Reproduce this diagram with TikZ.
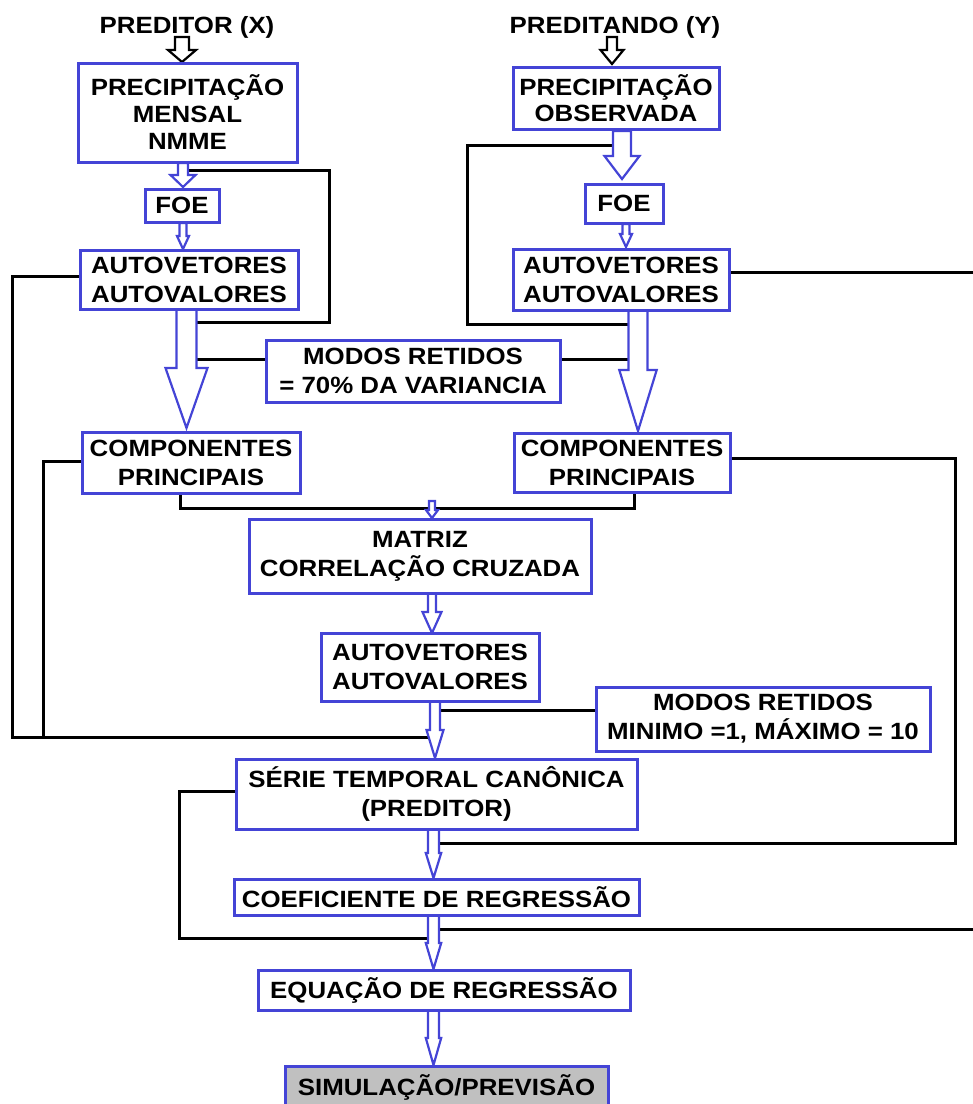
\documentclass[tikz,border=0pt]{standalone}
\usepackage{fontspec}
\setmainfont{Liberation Sans}[FakeStretch=1.1]
\definecolor{bblue}{RGB}{68,68,214}
\definecolor{simgray}{RGB}{192,192,192}
\newcommand\harrow[7]{%
  \draw[draw=#1, line width=2.2, fill=white, line join=miter]
    ({#2-#6},#3) -- ({#2-#6},#4) -- ({#2-#7},#4) -- (#2,#5) -- ({#2+#7},#4)
    -- ({#2+#6},#4) -- ({#2+#6},#3) -- cycle;}
\begin{document}
\begin{tikzpicture}[x=1pt,y=-1pt,
  box/.style={draw=bblue, line width=3, fill=white, inner sep=0pt, align=center,
    font=\fontsize{23.5}{29}\selectfont\bfseries},
  lbl/.style={inner sep=0pt, font=\fontsize{23.5}{29}\selectfont\bfseries},
  conn/.style={draw=black, line width=3, line join=miter}]
\useasboundingbox (0,0) rectangle (973,1104);

% ---------- nodes ----------
\node[lbl] (tx) at (187,27) {PREDITOR (X)};
\node[lbl] (ty) at (615,27) {PREDITANDO (Y)};

% ---------- connectors ----------
\coordinate (a1) at (188,170);
\coordinate (a2) at (197,322);
\draw[conn] (a1) -| (329,322) -- (a2);
\coordinate (b1) at (80,276);
\coordinate (b2) at (428,737);
\draw[conn] (b1) -| (12,737) -- (b2);
\coordinate (c1) at (82,461);
\draw[conn] (c1) -| (43,737);
\coordinate (d1) at (620,145);
\coordinate (d2) at (629,324);
\draw[conn] (d1) -| (467,324) -- (d2);
\coordinate (e1) at (197,359);
\coordinate (e2) at (266,359);
\coordinate (e3) at (560,359);
\coordinate (e4) at (629,359);
\draw[conn] (e1) -- (e2);
\draw[conn] (e3) -- (e4);
\coordinate (f1) at (729,272);
\coordinate (f2) at (973,272);
\draw[conn] (f1) -- (f2);
\coordinate (g1) at (180,493);
\coordinate (g2) at (634,492);
\draw[conn] (g1) |- (634,508) -- (g2);
\coordinate (h1) at (730,458);
\coordinate (h2) at (440,843);
\draw[conn] (h1) -| (955,843) -- (h2);
\coordinate (i1) at (440,710);
\coordinate (i2) at (596,710);
\draw[conn] (i1) -- (i2);
\coordinate (j1) at (236,791);
\coordinate (j2) at (428,938);
\draw[conn] (j1) -| (179,938) -- (j2);
\coordinate (k1) at (440,929);
\coordinate (k2) at (973,929);
\draw[conn] (k1) -- (k2);

% ---------- hollow arrows ----------
\harrow{black}{182}{37}{50}{62}{7}{14}
\harrow{black}{612}{37}{50}{64}{5}{11.5}
\harrow{bblue}{183}{163}{175}{187}{5}{12.5}
\harrow{bblue}{183}{223}{236}{249}{3.5}{6}
\harrow{bblue}{622}{131}{156}{179}{9}{17.5}
\harrow{bblue}{626}{224}{234}{247}{3.5}{6}
\harrow{bblue}{186.5}{309}{368}{428}{10}{21}
\harrow{bblue}{638}{309}{370}{431}{9.5}{18.7}
\harrow{bblue}{432}{501}{510}{518}{3}{6}
\harrow{bblue}{432}{593}{612}{633}{4}{9.5}
\harrow{bblue}{435}{701}{730}{758}{5}{8.5}
\harrow{bblue}{433.5}{829}{853}{878}{5.5}{7.7}
\harrow{bblue}{433.5}{915}{943}{969}{5.5}{7.7}
\harrow{bblue}{433.5}{1010}{1038}{1065}{5.5}{7.7}

% ---------- boxes ----------
\node[box, minimum width=219, minimum height=99,
  font=\fontsize{23.5}{27}\selectfont\bfseries] (p1) at (187.5,112.5)
  {PRECIPITAÇÃO\\MENSAL\\NMME};
\node[box, minimum width=206, minimum height=62,
  font=\fontsize{23.5}{26}\selectfont\bfseries] (p2) at (616,98)
  {PRECIPITAÇÃO\\OBSERVADA};
\node[box, minimum width=74, minimum height=33] (foe1) at (182,205.5) {FOE};
\node[box, minimum width=78, minimum height=39] (foe2) at (624,203.5) {FOE};
\node[box, minimum width=218, minimum height=59] (av1) at (189,279.5)
  {AUTOVETORES\\AUTOVALORES};
\node[box, minimum width=216, minimum height=61] (av2) at (621,279.5)
  {AUTOVETORES\\AUTOVALORES};
\node[box, minimum width=294, minimum height=62] (m1) at (413,371)
  {MODOS RETIDOS\\= 70\% DA VARIANCIA};
\node[box, minimum width=218, minimum height=61] (cp1) at (191,462.5)
  {COMPONENTES\\PRINCIPAIS};
\node[box, minimum width=216, minimum height=59] (cp2) at (622,462.5)
  {COMPONENTES\\PRINCIPAIS};
\node[box, minimum width=342, minimum height=74] (mat) at (420,556)
  {MATRIZ\\CORRELAÇÃO CRUZADA};
\node[box, minimum width=218, minimum height=68] (av3) at (430,667)
  {AUTOVETORES\\AUTOVALORES};
\node[box, minimum width=334, minimum height=64] (m2) at (763,719)
  {MODOS RETIDOS\\MINIMO =1, MÁXIMO = 10};
\node[box, minimum width=401, minimum height=70] (ser) at (436.5,794)
  {SÉRIE TEMPORAL CANÔNICA\\(PREDITOR)};
\node[box, minimum width=405, minimum height=36] (coef) at (436.5,897)
  {COEFICIENTE DE REGRESSÃO};
\node[box, minimum width=372, minimum height=40] (eq) at (444,990)
  {EQUAÇÃO DE REGRESSÃO};
\node[box, fill=simgray, minimum width=323, minimum height=42] (sim) at (446.5,1087)
  {SIMULAÇÃO/PREVISÃO};
\end{tikzpicture}
\end{document}
